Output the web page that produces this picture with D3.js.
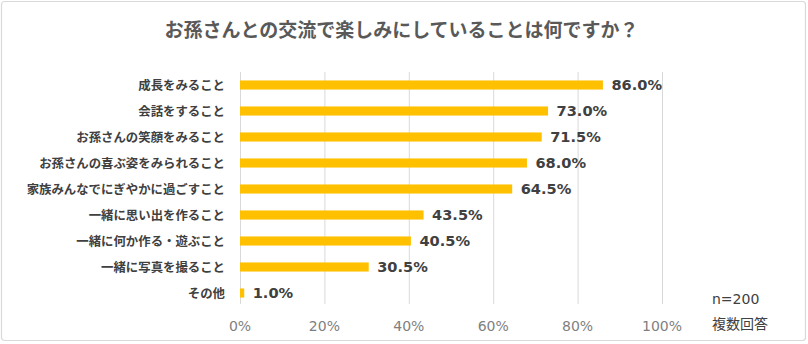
<!DOCTYPE html>
<html><head><meta charset="utf-8">
<script src="https://cdn.jsdelivr.net/npm/d3@7"></script>
<style>
html,body{margin:0;padding:0;background:#fff;}
svg{display:block;}
</style></head>
<body>
<script>
const title = "お孫さんとの交流で楽しみにしていることは何ですか？";
const categories = ["成長をみること","会話をすること","お孫さんの笑顔をみること","お孫さんの喜ぶ姿をみられること","家族みんなでにぎやかに過ごすこと","一緒に思い出を作ること","一緒に何か作る・遊ぶこと","一緒に写真を撮ること","その他"];
const values = [86.0, 73.0, 71.5, 68.0, 64.5, 43.5, 40.5, 30.5, 1.0];
const ticks = [0, 20, 40, 60, 80, 100];
const noteLines = ["n=200", "複数回答"];

const W = 808, H = 344;
const svg = d3.select("body").append("svg").attr("width", W).attr("height", H);

svg.append("rect").attr("x", 1.5).attr("y", 1.5).attr("width", W - 4).attr("height", H - 5)
  .attr("rx", 3).attr("fill", "#fff").attr("stroke", "#d9d9d9").attr("stroke-width", 1.2);

const x = d3.scaleLinear().domain([0, 100]).range([240, 662]);
const y = d3.scaleBand().domain(categories).range([72, 306]).paddingInner(0.65).paddingOuter(0.325);

// gridlines
svg.append("g").selectAll("line").data(ticks).join("line")
  .attr("x1", d => x(d) + 0.5).attr("x2", d => x(d) + 0.5)
  .attr("y1", 72).attr("y2", 304)
  .attr("stroke", "#d9d9d9").attr("stroke-width", 1);

// tick labels
svg.append("g").selectAll("text").data(ticks).join("text")
  .attr("x", d => x(d)).attr("y", 331)
  .attr("text-anchor", "middle")
  .attr("font-family", "DejaVu Sans, sans-serif").attr("font-size", 14)
  .attr("fill", "#7f7f7f")
  .text(d => d + "%");

// bars
const rows = categories.map((c, i) => ({c, v: values[i]}));
svg.append("g").selectAll("rect").data(rows).join("rect")
  .attr("x", x(0)).attr("y", d => y(d.c))
  .attr("width", d => x(d.v) - x(0)).attr("height", y.bandwidth())
  .attr("fill", "#FFC000");

// category labels
svg.append("g").selectAll("text").data(rows).join("text")
  .attr("x", 225).attr("y", d => y(d.c) + y.bandwidth() / 2 + 4.5)
  .attr("text-anchor", "end")
  .attr("font-family", "Noto Sans CJK JP, sans-serif").attr("font-size", 12.4).attr("font-weight", 700)
  .attr("fill", "#404040")
  .text(d => d.c);

// value labels
svg.append("g").selectAll("text").data(rows).join("text")
  .attr("x", d => x(d.v) + 8.5).attr("y", d => y(d.c) + y.bandwidth() / 2 + 5.3)
  .attr("font-family", "DejaVu Sans, sans-serif").attr("font-size", 14.6).attr("font-weight", 700)
  .attr("fill", "#404040")
  .text(d => d.v.toFixed(1) + "%");

// title
svg.append("text").attr("x", 401.5).attr("y", 37)
  .attr("text-anchor", "middle")
  .attr("font-family", "Noto Sans CJK JP, sans-serif").attr("font-size", 19).attr("font-weight", 700)
  .attr("fill", "#595959")
  .text(title);

// note
svg.append("g").selectAll("text").data(noteLines).join("text")
  .attr("x", 712).attr("y", (d, i) => 304 + i * 25)
  .attr("font-family", (d, i) => i === 0 ? "DejaVu Sans, sans-serif" : "Noto Sans CJK JP, sans-serif")
  .attr("font-size", 14)
  .attr("fill", "#404040")
  .text(d => d);
</script>
</body></html>
